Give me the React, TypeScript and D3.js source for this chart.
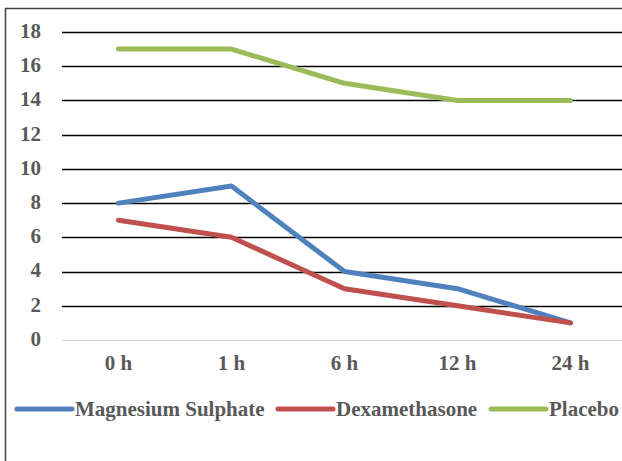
import React, { useRef, useEffect } from 'react';
import * as d3 from 'd3';

const categories = ['0 h', '1 h', '6 h', '12 h', '24 h'];
const magnesium = [8, 9, 4, 3, 1];
const dexamethasone = [7, 6, 3, 2, 1];
const placebo = [17, 17, 15, 14, 14];
const yTicks = [0, 2, 4, 6, 8, 10, 12, 14, 16, 18];

const seriesList = [
  { name: 'Magnesium Sulphate', values: magnesium, color: '#4f81bd' },
  { name: 'Dexamethasone', values: dexamethasone, color: '#c0504d' },
  { name: 'Placebo', values: placebo, color: '#9bbb59' },
];

const W = 622;
const H = 461;

const App: React.FC = () => {
  const svgRef = useRef<SVGSVGElement>(null);

  useEffect(() => {
    if (!svgRef.current) return;
    const svg = d3.select(svgRef.current);
    svg.selectAll('*').remove();

    const font = "'Times New Roman', 'Liberation Serif', serif";
    const fontSize = 21;
    const left = 62;
    const right = 627;
    const top = 32;
    const bottom = 340;

    // outer chart border (cropped on right/bottom)
    svg.append('rect')
      .attr('x', 5.5).attr('y', 8.5)
      .attr('width', 700).attr('height', 600)
      .attr('fill', '#fff')
      .attr('stroke', '#404040')
      .attr('stroke-width', 1.5);

    const x = d3.scaleBand<string>().domain(categories).range([left, right]);
    const y = d3.scaleLinear().domain([0, 18]).range([bottom, top]);

    const grid = svg.append('g');
    yTicks.forEach(t => {
      grid.append('line')
        .attr('x1', left).attr('x2', W)
        .attr('y1', Math.round(y(t)) + 0.5).attr('y2', Math.round(y(t)) + 0.5)
        .attr('stroke', t === 0 ? '#d9d9d9' : '#000')
        .attr('stroke-width', t === 0 ? 1.5 : 1.3);
      grid.append('text')
        .attr('x', 41).attr('y', y(t))
        .attr('dy', '0.28em')
        .attr('text-anchor', 'end')
        .style('font-family', font)
        .attr('font-weight', 'bold')
        .attr('font-size', fontSize)
        .attr('fill', '#595959')
        .text(t);
    });

    categories.forEach(c => {
      svg.append('text')
        .attr('x', (x(c) ?? 0) + x.bandwidth() / 2)
        .attr('y', 370)
        .attr('text-anchor', 'middle')
        .style('font-family', font)
        .attr('font-weight', 'bold')
        .attr('font-size', fontSize)
        .attr('fill', '#595959')
        .text(c);
    });

    const line = d3.line<number>()
      .x((_, i) => (x(categories[i]) ?? 0) + x.bandwidth() / 2)
      .y(d => y(d));

    seriesList.forEach(s => {
      svg.append('path')
        .attr('d', line(s.values))
        .attr('fill', 'none')
        .attr('stroke', s.color)
        .attr('stroke-width', 5)
        .attr('stroke-linecap', 'round')
        .attr('stroke-linejoin', 'round');
    });

    // legend
    const legendX = [17, 278, 491];
    seriesList.forEach((s, i) => {
      const lx = legendX[i];
      svg.append('line')
        .attr('x1', lx).attr('x2', lx + 55)
        .attr('y1', 409).attr('y2', 409)
        .attr('stroke', s.color)
        .attr('stroke-width', 5)
        .attr('stroke-linecap', 'round');
      svg.append('text')
        .attr('x', lx + 58).attr('y', 416)
        .style('font-family', font)
        .attr('font-weight', 'bold')
        .attr('font-size', fontSize)
        .attr('fill', '#595959')
        .text(s.name);
    });
  }, []);

  return (
    <svg ref={svgRef} width={W} height={H}
      style={{ position: 'absolute', left: 0, top: 0, background: '#fff' }} />
  );
};

export default App;
